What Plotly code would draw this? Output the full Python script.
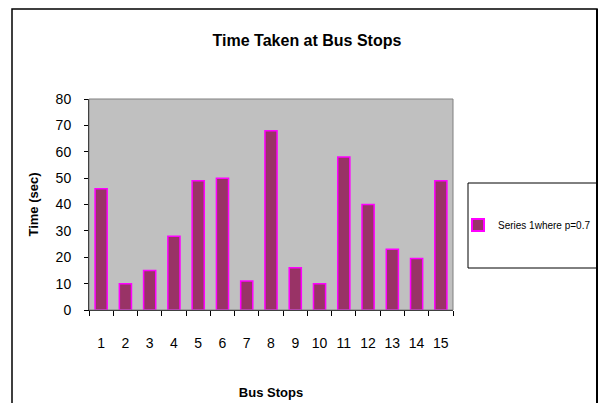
import plotly.graph_objects as go

stops = [str(i) for i in range(1, 16)]
times = [46, 10, 15, 28, 49, 50, 11, 68, 16, 10, 58, 40, 23, 19.5, 49]
series_name = "Series 1where p=0.7"
chart_title = "Time Taken at Bus Stops"
x_title = "Bus Stops"
y_title = "Time (sec)"

OFF = 8  # page body margin
W, H = 600 - OFF, 411 - 2 * OFF
# plot area in reference page pixels
PX0, PX1, PY0, PY1 = 89, 453, 99, 310
L, R, T, B = PX0 - OFF, OFF + W - PX1, PY0 - OFF, OFF + H - PY1
pw, ph = PX1 - PX0, PY1 - PY0
RIGHT = 597  # right edge of outer frame / legend box (page px)

def px(x):
    return (x - PX0) / pw

def py(y):
    return (PY1 - y) / ph

fig = go.Figure()
fig.add_trace(go.Bar(
    x=stops, y=times, name=series_name,
    marker=dict(color="#993366", line=dict(color="#FF00FF", width=1.5)),
    showlegend=True,
))

font = "Liberation Sans, Arial, sans-serif"
fig.update_layout(
    width=W, height=H,
    margin=dict(l=L, r=R, t=T, b=B, pad=0, autoexpand=False),
    paper_bgcolor="white", plot_bgcolor="#C0C0C0",
    bargap=0.5,
    font=dict(family=font, color="black", size=14),
    title=dict(text="<b>" + chart_title + "</b>", x=(307 - OFF) / W, xref="container", xanchor="center",
               y=1 - (40 - OFF) / H, yref="container", yanchor="middle", font=dict(size=16)),
    showlegend=True,
    legend=dict(x=px(458), y=py(225), xanchor="left", yanchor="middle",
                bgcolor="rgba(0,0,0,0)", borderwidth=0, font=dict(size=10),
                itemwidth=30, itemsizing="constant"),
    xaxis=dict(
        type="category", showgrid=False, showline=True, linecolor="black", linewidth=1,
        ticks="outside", tickson="boundaries", ticklen=5, tickcolor="black",
        ticklabelstandoff=20, tickfont=dict(size=14), tickangle=0,
        title=dict(text="<b>" + x_title + "</b>", font=dict(size=13), standoff=38),
    ),
    yaxis=dict(
        range=[0, 80], dtick=10, showgrid=False, zeroline=False, showline=True,
        linecolor="black", linewidth=1, ticks="outside", ticklen=4, tickcolor="black",
        ticklabelstandoff=10, tickfont=dict(size=14),
        title=dict(text="<b>" + y_title + "</b>", font=dict(size=13), standoff=14),
    ),
    shapes=[
        dict(type="rect", xref="paper", yref="paper", x0=px(12), x1=px(RIGHT), y0=py(430), y1=py(9),
             line=dict(color="black", width=1.5)),
        dict(type="rect", xref="paper", yref="paper", x0=0, x1=1, y0=0, y1=1,
             line=dict(color="#808080", width=1)),
        dict(type="rect", xref="paper", yref="paper", x0=px(468), x1=px(RIGHT), y0=py(268), y1=py(183),
             line=dict(color="black", width=1)),
        dict(type="line", xref="paper", yref="paper", x0=px(RIGHT), x1=px(RIGHT), y0=py(430), y1=py(9),
             line=dict(color="black", width=2)),
    ],
)

fig.write_html("out.html")
